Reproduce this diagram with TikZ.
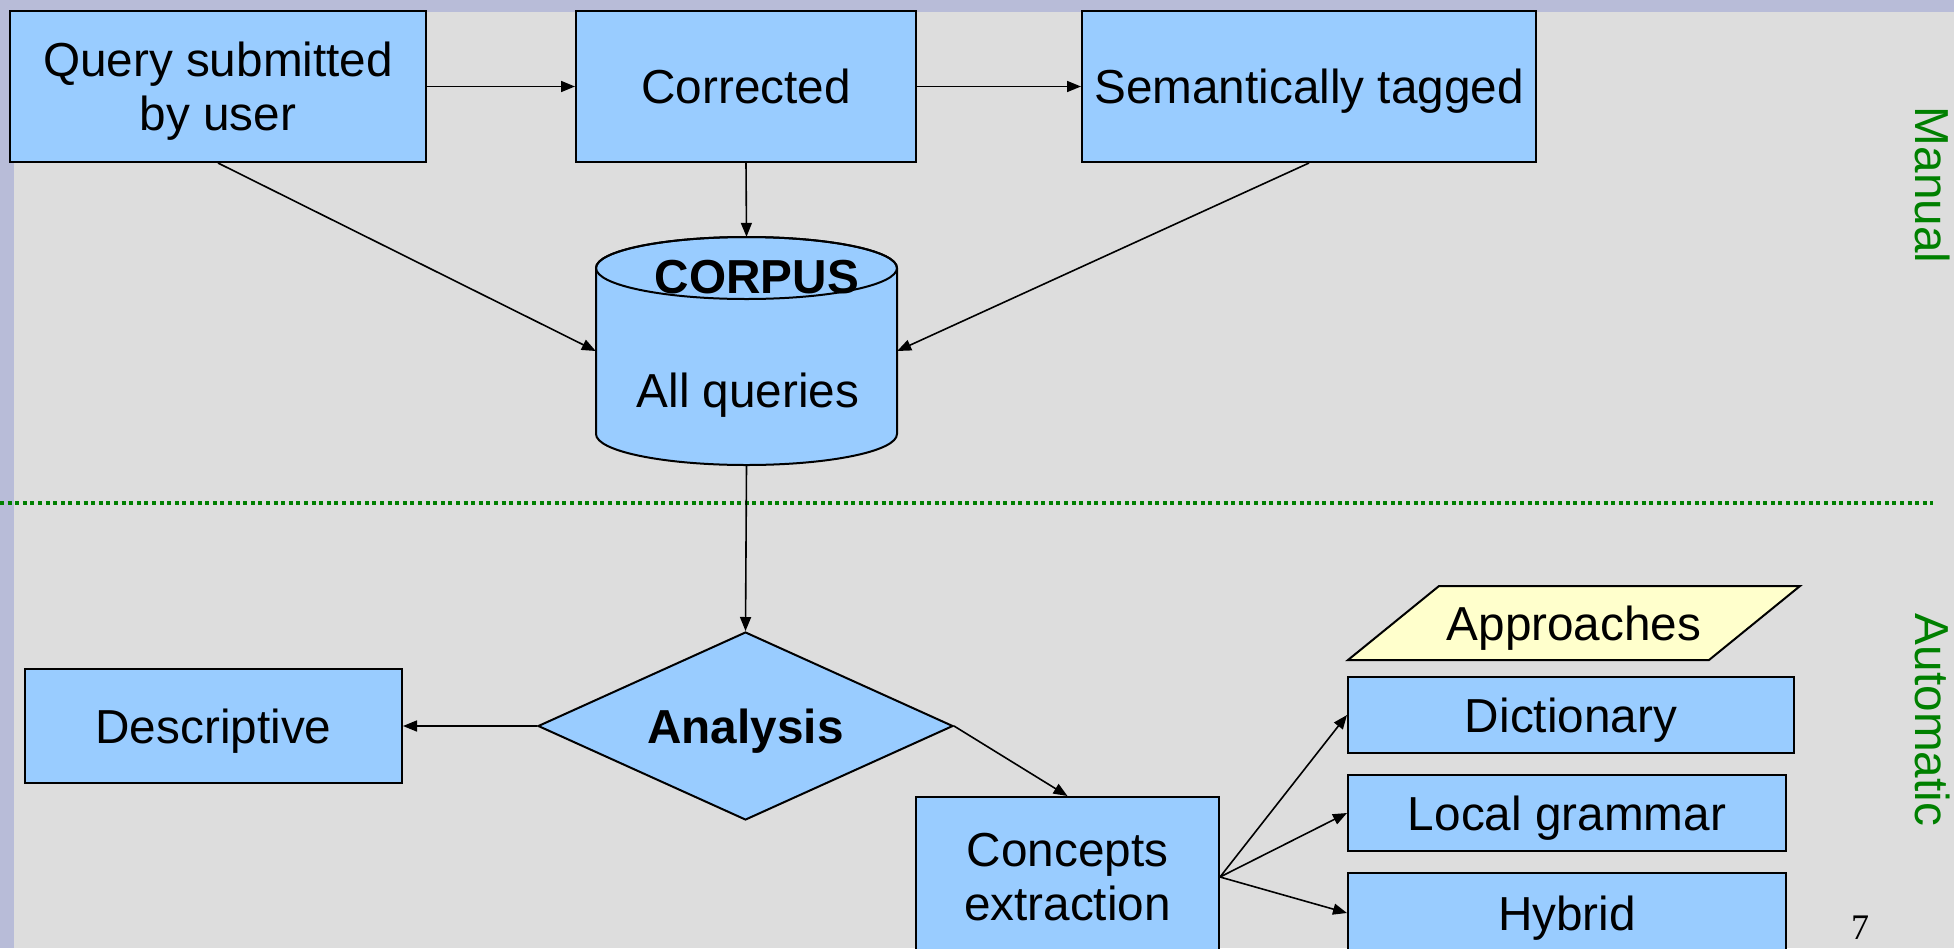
\documentclass[tikz,border=0pt]{standalone}
\usepackage{fontspec}
\setmainfont{Liberation Sans}
\newfontfamily\serifnum{Liberation Serif}
\usetikzlibrary{arrows.meta,shapes.geometric}
\definecolor{bg}{HTML}{DDDDDD}
\definecolor{strip}{HTML}{B8BCD8}
\definecolor{boxblue}{HTML}{99CCFF}
\definecolor{note}{HTML}{FFFFCC}
\definecolor{grn}{HTML}{008000}
\begin{document}
\begin{tikzpicture}[x=1pt,y=1pt,
  every node/.style={font=\fontsize{47.7}{54}\selectfont,text depth=0pt},
  box/.style={draw,line width=2pt,fill=boxblue,inner sep=0pt,align=center,rectangle},
  conn/.style={line width=1.6pt,-{Triangle[length=14pt,width=11pt]}},
  side/.style={text=grn,rotate=-90}
]
\useasboundingbox (0,0) rectangle (1954,-948);
\clip (0,0) rectangle (1954,-948);
\fill[bg] (0,0) rectangle (1954,-948);
\fill[strip] (0,0) rectangle (1954,-12);
\fill[strip] (0,0) rectangle (14,-948);

% dotted separator
\draw[grn,line width=4pt,dash pattern=on 4pt off 3.6pt] (0,-503) -- (1933,-503);

% top boxes
\node[box,minimum width=416pt,minimum height=151pt] (query) at (218,-86.5) {Query submitted\\by user};
\node[box,minimum width=340pt,minimum height=151pt] (corr) at (746,-86.5) {Corrected};
\node[box,minimum width=454pt,minimum height=151pt] (sem) at (1309,-86.5) {Semantically tagged};

% corpus cylinder
\node[minimum width=301pt,minimum height=228pt,inner sep=0pt] (corpus) at (746.5,-351) {};
\filldraw[fill=boxblue,line width=2pt] (596,-268) -- (596,-434)
  arc[start angle=180,end angle=360,x radius=150.5,y radius=31]
  -- (897,-268) arc[start angle=0,end angle=180,x radius=150.5,y radius=31] -- cycle;
\draw[line width=2pt] (746.5,-268) ellipse [x radius=150.5,y radius=31];
\node (corpustitle) at (757,-277) {\bfseries CORPUS};
\node (corpustext) at (748,-390) {All queries};

% analysis
\node[diamond,draw,line width=2pt,fill=boxblue,inner sep=0pt,aspect=2.2,
  minimum width=415pt,minimum height=188pt] (analysis) at (745.5,-726) {\bfseries Analysis};
\node[box,minimum width=377pt,minimum height=114pt] (desc) at (213.5,-726) {Descriptive};
\node[box,minimum width=303pt,minimum height=160pt] (concepts) at (1067.5,-877) {Concepts\\extraction};

% approaches
\filldraw[fill=note,line width=2pt] (1348,-660) -- (1439,-586) -- (1800,-586) -- (1709,-660) -- cycle;
\node (appr) at (1574,-623) {Approaches};
\node[box,minimum width=446pt,minimum height=76pt] (dict) at (1571,-715) {Dictionary};
\node[box,minimum width=438pt,minimum height=76pt] (local) at (1567,-813) {Local grammar};
\node[box,minimum width=438pt,minimum height=80pt] (hybrid) at (1567,-913) {Hybrid};

% side labels and page number
\node[side] (manual) at (1933,-185) {Manual};
\node[side] (auto) at (1933,-720) {Automatic};
\node[font=\serifnum\fontsize{36}{40}\selectfont] (pnum) at (1860,-928) {7};

% connectors
\draw[conn] (query) -- (corr);
\draw[conn] (corr) -- (sem);
\draw[conn] (corr.south) -- (corpus.north);
\draw[conn] (query.south) -- (corpus.west);
\draw[conn] (sem.south) -- (corpus.east);
\draw[conn] (corpus.south) -- (analysis.north);
\draw[conn] (analysis.west) -- (desc.east);
\draw[conn] (analysis.east) -- (concepts.north);
\draw[conn] (concepts.east) -- (dict.west);
\draw[conn] (concepts.east) -- (local.west);
\draw[conn] (concepts.east) -- (hybrid.west);
\end{tikzpicture}
\end{document}
